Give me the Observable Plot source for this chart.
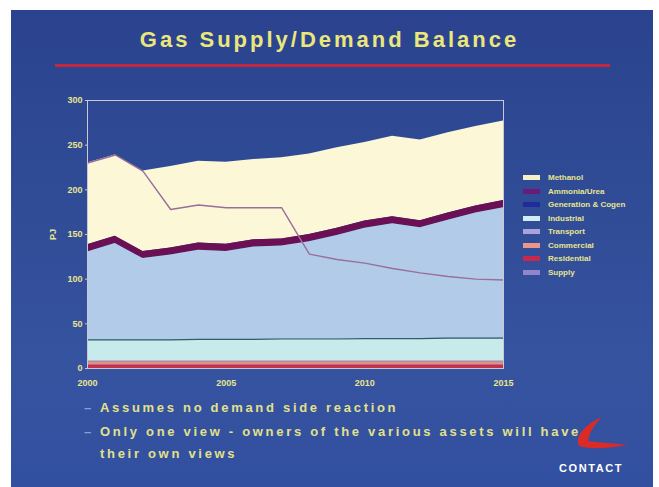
<!DOCTYPE html>
<html>
<head>
<meta charset="utf-8">
<script src="https://cdn.jsdelivr.net/npm/d3@7"></script>
<script src="https://cdn.jsdelivr.net/npm/@observablehq/plot@0.6"></script>
<style>
  html, body { margin: 0; padding: 0; background: #ffffff; }
  #page { position: relative; width: 659px; height: 487px; overflow: hidden; background: #fff; font-family: "Liberation Sans", Arial, sans-serif; }
  #slide { position: absolute; left: 11px; top: 10px; width: 642px; height: 477px;
    background: linear-gradient(180deg, #2b438e 0%, #314d98 45%, #3653a0 75%, #3250a0 100%); }
  #title { position: absolute; left: 0; width: 659px; top: 27px; text-align: center; color: #ece77a;
    font-weight: bold; font-size: 22px; letter-spacing: 3px; }
  #rule { position: absolute; left: 55px; top: 64px; width: 555px; height: 3px; background: #c3283f; }
  #chart { position: absolute; left: 0; top: 90px; }
  #legend { position: absolute; left: 523px; top: 172px; }
  .li { position: relative; height: 13.5px; }
  .sw { position: absolute; left: 0; top: 3px; width: 17px; height: 5px; }
  .lt { position: absolute; left: 25px; top: 0; color: #e8e58e; font-size: 8px; font-weight: bold; line-height: 11px; white-space: nowrap; }
  .bl { position: absolute; color: #e2e18a; font-size: 13px; font-weight: bold; letter-spacing: 2.7px; white-space: nowrap; }
  .dash { position: absolute; color: #8f9fd0; font-size: 13px; font-weight: bold; }
  #contact { position: absolute; left: 559px; top: 462px; color: #ffffff; font-size: 11px; font-weight: bold; letter-spacing: 1.6px; }
  #swoosh { position: absolute; left: 548px; top: 405px; }
</style>
</head>
<body>
<div id="page">
  <div id="slide"></div>
  <div id="title">Gas Supply/Demand Balance</div>
  <div id="rule"></div>
  <div id="chart"></div>
  <div id="legend"></div>
  <svg id="swoosh" width="90" height="50" viewBox="0 0 90 50">
    <path d="M54 12 C40 18 26 30 31 41 C44 45 62 43 79 40 C66 38 52 38 40 36 C41 28 46 20 54 12 Z" fill="#dc2a26"/>
  </svg>
  <div class="dash" style="left:84px; top:400px;">–</div>
  <div class="bl" style="left:100px; top:400px;">Assumes no demand side reaction</div>
  <div class="dash" style="left:84px; top:424px;">–</div>
  <div class="bl" style="left:100px; top:424px;">Only one view - owners of the various assets will have</div>
  <div class="bl" style="left:100px; top:446px;">their own views</div>
  <div id="contact">CONTACT</div>
</div>
<script>
// ---- data (PJ) ----
const years       = [2000, 2001, 2002, 2003, 2004, 2005, 2006, 2007, 2008, 2009, 2010, 2011, 2012, 2013, 2014, 2015];
const residential = [3.5, 3.5, 3.5, 3.5, 3.5, 3.5, 3.5, 3.5, 3.5, 3.5, 3.5, 3.5, 3.5, 3.5, 3.5, 3.5];
const commercial  = [4, 4, 4, 4, 4, 4, 4, 4, 4, 4, 4, 4, 4, 4, 4, 4];
const transport   = [0.5, 0.5, 0.5, 0.5, 0.5, 0.5, 0.5, 0.5, 0.5, 0.5, 0.5, 0.5, 0.5, 0.5, 0.5, 0.5];
const industrial  = [24, 24, 24, 24, 24.5, 24.5, 24.5, 25, 25, 25, 25.5, 25.5, 25.5, 26, 26, 26];
const generation  = [98.5, 108, 91, 95, 100, 98.5, 103.5, 104, 109, 116, 123.5, 128.5, 124, 132, 140, 146];
const ammoniaUrea = [8, 8, 8, 8, 8, 8, 8, 8, 8, 8, 8, 8, 8, 8, 8, 8];
const methanol    = [91.5, 91, 90, 91, 91.5, 92, 90, 91, 90, 90, 88, 90, 90.4, 90, 89, 89];
const supply      = [230, 239, 221, 178, 183, 180, 180, 180, 128, 122, 118, 112, 107, 103, 100, 99];

const seriesNames = ["Methanol", "Ammonia/Urea", "Generation & Cogen", "Industrial", "Transport", "Commercial", "Residential"];
const seriesValues = [methanol, ammoniaUrea, generation, industrial, transport, commercial, residential];
const areaColors  = ["#fcf7d6", "#6b1055", "#b2cbe9", "#c6ebea", "#b9b4e0", "#e58e88", "#c2304a"];
const legendNames = ["Methanol", "Ammonia/Urea", "Generation & Cogen", "Industrial", "Transport", "Commercial", "Residential", "Supply"];
const legendColors = ["#f4f0c8", "#6a1a78", "#1f2c9a", "#d2ecf6", "#a9a2dc", "#e9968c", "#c8284e", "#8f86cc"];
const yTicks = [0, 50, 100, 150, 200, 250, 300];
const xTicks = [2000, 2005, 2010, 2015];

// long table for the stacked areas
const rows = [];
seriesNames.forEach((name, s) => years.forEach((yr, i) => rows.push({year: yr, series: name, value: seriesValues[s][i]})));
const stackOrder = ["Residential", "Commercial", "Transport", "Industrial", "Generation & Cogen", "Ammonia/Urea", "Methanol"];
const industrialTop = years.map((_, i) => residential[i] + commercial[i] + transport[i] + industrial[i]);
const supplyRows = years.map((yr, i) => ({year: yr, value: supply[i]}));
const indRows = years.map((yr, i) => ({year: yr, value: industrialTop[i]}));

const txt = "#e8e58e";
const chart = Plot.plot({
  width: 520,
  height: 300,
  marginLeft: 87,
  marginRight: 17,
  marginTop: 10,
  marginBottom: 22,
  style: {background: "transparent", color: txt, fontFamily: "Liberation Sans, Arial, sans-serif", fontSize: "9px", fontWeight: "bold", overflow: "visible"},
  x: {domain: [2000, 2015], ticks: xTicks, tickFormat: d => String(d), label: null},
  y: {domain: [0, 300], ticks: yTicks, label: null},
  color: {domain: seriesNames, range: areaColors},
  marks: [
    Plot.areaY(rows, Plot.stackY({x: "year", y: "value", z: "series", fill: "series", order: stackOrder})),
    Plot.lineY(indRows, {x: "year", y: "value", stroke: "#2e5d6c", strokeWidth: 1.2}),
    Plot.lineY(supplyRows, {x: "year", y: "value", stroke: "#9a6e9c", strokeWidth: 1.4}),
    Plot.frame({stroke: "#c9c9d6", strokeWidth: 1}),
    Plot.axisY({ticks: yTicks, tickSize: 2, tickPadding: 3, stroke: "#c9c9d6", fill: txt, label: "PJ", labelAnchor: "center", labelArrow: "none", labelOffset: 38}),
    Plot.axisX({ticks: xTicks, tickFormat: d => String(d), tickSize: 0, tickPadding: 11, fill: txt, label: null})
  ]
});
document.getElementById("chart").appendChild(chart);

// legend
const lg = document.getElementById("legend");
legendNames.forEach((n, i) => {
  const d = document.createElement("div");
  d.className = "li";
  d.innerHTML = `<div class="sw" style="background:${legendColors[i]}"></div><div class="lt">${n.replace("&", "&amp;")}</div>`;
  lg.appendChild(d);
});
</script>
</body>
</html>
